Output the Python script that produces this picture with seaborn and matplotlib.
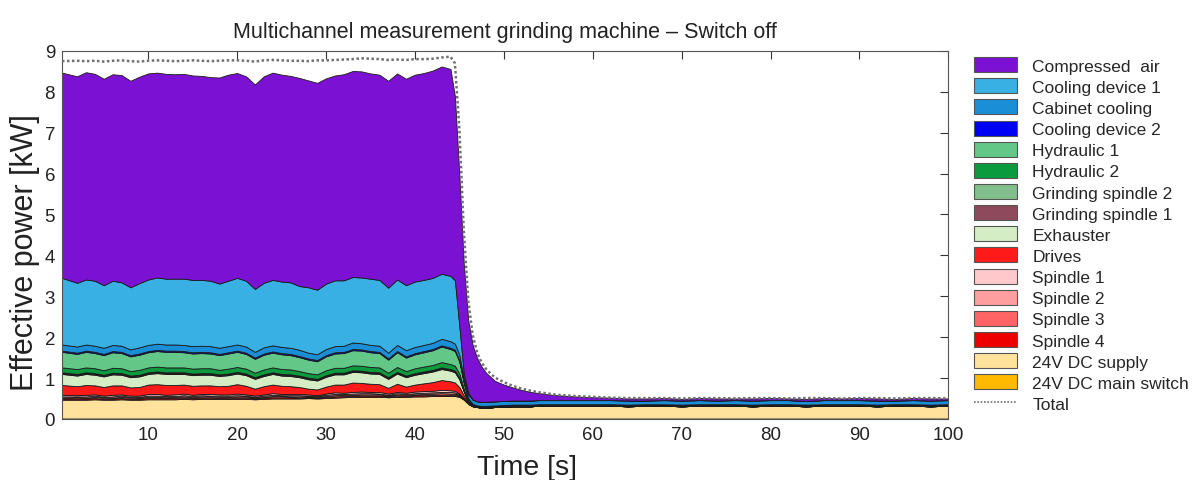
import numpy as np
import matplotlib
matplotlib.use("Agg")
import matplotlib.pyplot as plt
from matplotlib.patches import Patch
from matplotlib.lines import Line2D
import seaborn as sns

# ---------------------------------------------------------------------------
# Measured channels (effective power in kW) over time in seconds
# ---------------------------------------------------------------------------
time_s = [
    0.3, 2, 3, 4, 5, 6, 7, 8, 9, 10, 11, 12, 13, 14, 15, 16, 17, 18, 19, 20,
    21, 22, 23, 24, 25, 26, 27, 28, 29, 30, 31, 32, 33, 34, 35, 36, 37, 38, 39, 40,
    41, 42, 43, 44,
    44.5, 45, 45.5, 46, 46.5, 47, 47.5, 48, 49, 50, 51, 52, 53, 54, 55, 56, 58,
    60, 62, 64, 66, 68, 70, 72, 74, 76, 78, 80, 82, 84, 86, 88, 90, 92, 94, 96, 98, 100,
]

dc_main_switch = [
    0.01, 0.01, 0.01, 0.01, 0.01, 0.01, 0.01, 0.01, 0.01, 0.01, 0.01, 0.01, 0.01, 0.01, 0.01, 0.01, 0.01, 0.01, 0.01, 0.01,
    0.01, 0.01, 0.01, 0.01, 0.01, 0.01, 0.01, 0.01, 0.01, 0.01, 0.01, 0.01, 0.01, 0.01, 0.01, 0.01, 0.01, 0.01, 0.01, 0.01,
    0.01, 0.01, 0.01, 0.01,
    0.01, 0.01, 0.01, 0.01, 0.01, 0.01, 0.01, 0.01, 0.01, 0.01, 0.01, 0.01, 0.01, 0.01, 0.01, 0.01, 0.01,
    0.01, 0.01, 0.01, 0.01, 0.01, 0.01, 0.01, 0.01, 0.01, 0.01, 0.01, 0.01, 0.01, 0.01, 0.01, 0.01, 0.01, 0.01, 0.01, 0.01, 0.01,
]
dc_supply = [
    0.46, 0.46, 0.46, 0.47, 0.46, 0.46, 0.47, 0.46, 0.46, 0.47, 0.47, 0.47, 0.47, 0.48, 0.47, 0.48, 0.48, 0.48, 0.48, 0.48,
    0.48, 0.47, 0.48, 0.49, 0.49, 0.49, 0.49, 0.50, 0.49, 0.50, 0.51, 0.52, 0.53, 0.53, 0.53, 0.53, 0.52, 0.53, 0.53, 0.54,
    0.54, 0.55, 0.55, 0.55,
    0.55, 0.53, 0.46, 0.36, 0.30, 0.28, 0.27, 0.27, 0.28, 0.29, 0.30, 0.30, 0.30, 0.31, 0.31, 0.31, 0.31,
    0.31, 0.31, 0.30, 0.31, 0.31, 0.30, 0.31, 0.31, 0.31, 0.30, 0.31, 0.31, 0.30, 0.31, 0.31, 0.31, 0.30, 0.31, 0.31, 0.30, 0.31,
]
spindle_4 = [
    0.03, 0.03, 0.03, 0.03, 0.02, 0.03, 0.03, 0.02, 0.03, 0.03, 0.03, 0.03, 0.03, 0.03, 0.03, 0.03, 0.03, 0.02, 0.03, 0.03,
    0.03, 0.02, 0.03, 0.03, 0.03, 0.03, 0.02, 0.02, 0.02, 0.03, 0.03, 0.03, 0.03, 0.03, 0.03, 0.03, 0.02, 0.03, 0.02, 0.03,
    0.03, 0.03, 0.03, 0.03,
    0.03, 0.02, 0.01, 0.00, 0.00, 0.00, 0.00, 0.00, 0.00, 0.00, 0.00, 0.00, 0.00, 0.00, 0.00, 0.00, 0.00,
    0.00, 0.00, 0.00, 0.00, 0.00, 0.00, 0.00, 0.00, 0.00, 0.00, 0.00, 0.00, 0.00, 0.00, 0.00, 0.00, 0.00, 0.00, 0.00, 0.00, 0.00,
]
spindle_3 = [
    0.02, 0.03, 0.02, 0.03, 0.03, 0.02, 0.03, 0.03, 0.02, 0.03, 0.03, 0.02, 0.03, 0.03, 0.02, 0.03, 0.03, 0.03, 0.02, 0.03,
    0.03, 0.02, 0.02, 0.03, 0.03, 0.02, 0.03, 0.02, 0.02, 0.02, 0.03, 0.03, 0.02, 0.03, 0.03, 0.03, 0.02, 0.03, 0.03, 0.02,
    0.03, 0.03, 0.04, 0.03,
    0.03, 0.02, 0.01, 0.00, 0.00, 0.00, 0.00, 0.00, 0.00, 0.00, 0.00, 0.00, 0.00, 0.00, 0.00, 0.00, 0.00,
    0.00, 0.00, 0.00, 0.00, 0.00, 0.00, 0.00, 0.00, 0.00, 0.00, 0.00, 0.00, 0.00, 0.00, 0.00, 0.00, 0.00, 0.00, 0.00, 0.00, 0.00,
]
spindle_2 = [
    0.03, 0.02, 0.03, 0.03, 0.02, 0.03, 0.03, 0.02, 0.02, 0.03, 0.03, 0.03, 0.02, 0.03, 0.03, 0.03, 0.02, 0.03, 0.03, 0.03,
    0.02, 0.02, 0.03, 0.03, 0.02, 0.03, 0.03, 0.02, 0.02, 0.03, 0.03, 0.02, 0.03, 0.03, 0.03, 0.02, 0.02, 0.03, 0.02, 0.03,
    0.03, 0.03, 0.03, 0.04,
    0.03, 0.02, 0.01, 0.00, 0.00, 0.00, 0.00, 0.00, 0.00, 0.00, 0.00, 0.00, 0.00, 0.00, 0.00, 0.00, 0.00,
    0.00, 0.00, 0.00, 0.00, 0.00, 0.00, 0.00, 0.00, 0.00, 0.00, 0.00, 0.00, 0.00, 0.00, 0.00, 0.00, 0.00, 0.00, 0.00, 0.00, 0.00,
]
spindle_1 = [
    0.04, 0.03, 0.04, 0.03, 0.03, 0.04, 0.03, 0.03, 0.03, 0.04, 0.04, 0.03, 0.04, 0.04, 0.03, 0.03, 0.04, 0.03, 0.03, 0.04,
    0.03, 0.03, 0.03, 0.04, 0.03, 0.03, 0.03, 0.03, 0.02, 0.03, 0.04, 0.03, 0.04, 0.04, 0.03, 0.04, 0.03, 0.03, 0.03, 0.04,
    0.04, 0.04, 0.05, 0.04,
    0.04, 0.02, 0.01, 0.00, 0.00, 0.00, 0.00, 0.00, 0.00, 0.00, 0.00, 0.00, 0.00, 0.00, 0.00, 0.00, 0.00,
    0.00, 0.00, 0.00, 0.00, 0.00, 0.00, 0.00, 0.00, 0.00, 0.00, 0.00, 0.00, 0.00, 0.00, 0.00, 0.00, 0.00, 0.00, 0.00, 0.00, 0.00,
]
drives = [
    0.24, 0.22, 0.24, 0.22, 0.21, 0.23, 0.22, 0.20, 0.21, 0.23, 0.24, 0.24, 0.23, 0.22, 0.22, 0.21, 0.21, 0.20, 0.21, 0.23,
    0.21, 0.17, 0.20, 0.21, 0.20, 0.19, 0.17, 0.14, 0.14, 0.17, 0.19, 0.20, 0.23, 0.21, 0.20, 0.19, 0.14, 0.20, 0.15, 0.17,
    0.19, 0.21, 0.24, 0.22,
    0.20, 0.16, 0.07, 0.02, 0.00, 0.00, 0.00, 0.00, 0.00, 0.00, 0.00, 0.00, 0.00, 0.00, 0.00, 0.00, 0.00,
    0.00, 0.00, 0.00, 0.00, 0.00, 0.00, 0.00, 0.00, 0.00, 0.00, 0.00, 0.00, 0.00, 0.00, 0.00, 0.00, 0.00, 0.00, 0.00, 0.00, 0.00,
]
exhauster = [
    0.27, 0.26, 0.27, 0.26, 0.26, 0.27, 0.26, 0.25, 0.26, 0.26, 0.27, 0.27, 0.27, 0.26, 0.26, 0.26, 0.26, 0.25, 0.26, 0.26,
    0.26, 0.24, 0.25, 0.26, 0.25, 0.25, 0.24, 0.23, 0.22, 0.24, 0.25, 0.25, 0.26, 0.26, 0.25, 0.25, 0.22, 0.25, 0.23, 0.24,
    0.25, 0.26, 0.27, 0.26,
    0.25, 0.19, 0.09, 0.03, 0.01, 0.00, 0.00, 0.00, 0.00, 0.00, 0.00, 0.00, 0.00, 0.00, 0.00, 0.00, 0.00,
    0.00, 0.00, 0.00, 0.00, 0.00, 0.00, 0.00, 0.00, 0.00, 0.00, 0.00, 0.00, 0.00, 0.00, 0.00, 0.00, 0.00, 0.00, 0.00, 0.00, 0.00,
]
grinding_spindle_1 = [
    0.02, 0.02, 0.02, 0.02, 0.02, 0.02, 0.02, 0.02, 0.02, 0.02, 0.02, 0.02, 0.02, 0.02, 0.02, 0.02, 0.02, 0.02, 0.02, 0.02,
    0.02, 0.02, 0.02, 0.02, 0.02, 0.02, 0.02, 0.02, 0.02, 0.02, 0.02, 0.02, 0.02, 0.02, 0.02, 0.02, 0.02, 0.02, 0.02, 0.02,
    0.02, 0.02, 0.02, 0.02,
    0.02, 0.02, 0.01, 0.00, 0.00, 0.00, 0.00, 0.00, 0.00, 0.00, 0.00, 0.00, 0.00, 0.00, 0.00, 0.00, 0.00,
    0.00, 0.00, 0.00, 0.00, 0.00, 0.00, 0.00, 0.00, 0.00, 0.00, 0.00, 0.00, 0.00, 0.00, 0.00, 0.00, 0.00, 0.00, 0.00, 0.00, 0.00,
]
grinding_spindle_2 = [
    0.02, 0.02, 0.02, 0.02, 0.02, 0.02, 0.02, 0.02, 0.02, 0.02, 0.02, 0.02, 0.02, 0.02, 0.02, 0.02, 0.02, 0.02, 0.02, 0.02,
    0.02, 0.02, 0.02, 0.02, 0.02, 0.02, 0.02, 0.02, 0.02, 0.02, 0.02, 0.02, 0.02, 0.02, 0.02, 0.02, 0.02, 0.02, 0.02, 0.02,
    0.02, 0.02, 0.02, 0.02,
    0.02, 0.02, 0.01, 0.00, 0.00, 0.00, 0.00, 0.00, 0.00, 0.00, 0.00, 0.00, 0.00, 0.00, 0.00, 0.00, 0.00,
    0.00, 0.00, 0.00, 0.00, 0.00, 0.00, 0.00, 0.00, 0.00, 0.00, 0.00, 0.00, 0.00, 0.00, 0.00, 0.00, 0.00, 0.00, 0.00, 0.00, 0.00,
]
hydraulic_2 = [
    0.12, 0.12, 0.12, 0.12, 0.11, 0.12, 0.12, 0.11, 0.12, 0.12, 0.12, 0.12, 0.12, 0.12, 0.12, 0.12, 0.12, 0.11, 0.12, 0.12,
    0.12, 0.11, 0.12, 0.12, 0.12, 0.12, 0.11, 0.11, 0.11, 0.12, 0.12, 0.12, 0.12, 0.12, 0.12, 0.12, 0.11, 0.12, 0.11, 0.12,
    0.12, 0.12, 0.13, 0.12,
    0.12, 0.10, 0.05, 0.02, 0.01, 0.01, 0.01, 0.01, 0.01, 0.01, 0.01, 0.01, 0.01, 0.01, 0.01, 0.01, 0.01,
    0.01, 0.01, 0.01, 0.01, 0.01, 0.01, 0.01, 0.01, 0.01, 0.01, 0.01, 0.01, 0.01, 0.01, 0.01, 0.01, 0.01, 0.01, 0.01, 0.01, 0.01,
]
hydraulic_1 = [
    0.38, 0.37, 0.38, 0.37, 0.37, 0.38, 0.37, 0.36, 0.37, 0.37, 0.38, 0.38, 0.38, 0.37, 0.37, 0.37, 0.36, 0.36, 0.37, 0.37,
    0.36, 0.34, 0.36, 0.36, 0.36, 0.35, 0.34, 0.33, 0.32, 0.34, 0.35, 0.36, 0.37, 0.37, 0.36, 0.35, 0.32, 0.36, 0.33, 0.34,
    0.35, 0.36, 0.38, 0.37,
    0.36, 0.29, 0.14, 0.04, 0.02, 0.01, 0.01, 0.01, 0.01, 0.01, 0.01, 0.01, 0.01, 0.01, 0.01, 0.01, 0.01,
    0.01, 0.01, 0.01, 0.01, 0.01, 0.01, 0.01, 0.01, 0.01, 0.01, 0.01, 0.01, 0.01, 0.01, 0.01, 0.01, 0.01, 0.01, 0.01, 0.01, 0.01,
]
cooling_device_2 = [
    0.03, 0.03, 0.03, 0.03, 0.03, 0.03, 0.03, 0.03, 0.03, 0.03, 0.03, 0.03, 0.03, 0.03, 0.03, 0.03, 0.03, 0.03, 0.03, 0.03,
    0.03, 0.03, 0.03, 0.03, 0.03, 0.03, 0.03, 0.03, 0.03, 0.03, 0.03, 0.03, 0.03, 0.03, 0.03, 0.03, 0.03, 0.03, 0.03, 0.03,
    0.03, 0.03, 0.03, 0.03,
    0.03, 0.03, 0.02, 0.02, 0.02, 0.02, 0.02, 0.02, 0.02, 0.02, 0.02, 0.02, 0.02, 0.02, 0.02, 0.02, 0.02,
    0.02, 0.02, 0.02, 0.02, 0.02, 0.02, 0.02, 0.02, 0.02, 0.02, 0.02, 0.02, 0.02, 0.02, 0.02, 0.02, 0.02, 0.02, 0.02, 0.02, 0.02,
]
cabinet_cooling = [
    0.15, 0.15, 0.15, 0.15, 0.15, 0.15, 0.15, 0.14, 0.15, 0.15, 0.15, 0.15, 0.15, 0.15, 0.15, 0.15, 0.15, 0.15, 0.15, 0.15,
    0.15, 0.14, 0.15, 0.15, 0.15, 0.15, 0.15, 0.14, 0.14, 0.15, 0.15, 0.15, 0.16, 0.15, 0.15, 0.15, 0.14, 0.15, 0.15, 0.15,
    0.15, 0.15, 0.16, 0.16,
    0.15, 0.14, 0.10, 0.10, 0.10, 0.10, 0.10, 0.10, 0.10, 0.10, 0.10, 0.10, 0.10, 0.10, 0.10, 0.10, 0.10,
    0.10, 0.10, 0.10, 0.09, 0.10, 0.10, 0.10, 0.09, 0.10, 0.10, 0.10, 0.10, 0.09, 0.10, 0.10, 0.10, 0.10, 0.09, 0.10, 0.10, 0.10,
]
cooling_device_1 = [
    1.63, 1.56, 1.59, 1.59, 1.53, 1.57, 1.55, 1.52, 1.57, 1.60, 1.62, 1.61, 1.61, 1.62, 1.62, 1.61, 1.60, 1.57, 1.60, 1.63,
    1.61, 1.54, 1.58, 1.60, 1.60, 1.60, 1.56, 1.60, 1.58, 1.60, 1.61, 1.60, 1.60, 1.61, 1.62, 1.61, 1.59, 1.60, 1.59, 1.60,
    1.59, 1.59, 1.59, 1.60,
    1.55, 0.70, 0.12, 0.04, 0.01, 0.00, 0.00, 0.00, 0.00, 0.00, 0.00, 0.00, 0.00, 0.00, 0.00, 0.00, 0.00,
    0.00, 0.00, 0.00, 0.00, 0.00, 0.00, 0.00, 0.00, 0.00, 0.00, 0.00, 0.00, 0.00, 0.00, 0.00, 0.00, 0.00, 0.00, 0.00, 0.00, 0.00,
]
compressed_air = [
    5.02, 5.05, 5.07, 5.06, 5.05, 5.05, 5.07, 5.05, 5.05, 5.04, 5.01, 5.01, 5.00, 5.01, 5.00, 4.99, 4.98, 5.04, 5.04, 5.01,
    5.00, 5.00, 5.05, 5.07, 5.06, 5.05, 5.09, 5.06, 5.06, 5.02, 5.01, 5.04, 5.04, 5.04, 5.02, 5.02, 5.06, 5.04, 5.05, 5.06,
    5.06, 5.07, 5.07, 5.06,
    4.50, 3.70, 2.67, 1.77, 1.32, 1.06, 0.86, 0.71, 0.50, 0.40, 0.32, 0.26, 0.21, 0.17, 0.14, 0.12, 0.09,
    0.07, 0.06, 0.05, 0.05, 0.05, 0.04, 0.05, 0.05, 0.04, 0.05, 0.05, 0.04, 0.05, 0.05, 0.04, 0.05, 0.05, 0.04, 0.05, 0.05, 0.04,
]
total = [
    8.75, 8.76, 8.75, 8.76, 8.74, 8.76, 8.77, 8.75, 8.74, 8.76, 8.77, 8.76, 8.75, 8.76, 8.77, 8.76, 8.75, 8.76, 8.77, 8.77,
    8.76, 8.74, 8.77, 8.78, 8.77, 8.76, 8.76, 8.75, 8.77, 8.77, 8.78, 8.79, 8.80, 8.82, 8.81, 8.80, 8.78, 8.79, 8.78, 8.80,
    8.80, 8.81, 8.84, 8.86,
    8.70, 7.10, 4.60, 2.90, 2.05, 1.62, 1.38, 1.22, 1.01, 0.90, 0.81, 0.74, 0.69, 0.65, 0.62, 0.59, 0.56,
    0.54, 0.52, 0.51, 0.51, 0.51, 0.50, 0.51, 0.51, 0.50, 0.51, 0.51, 0.50, 0.51, 0.51, 0.50, 0.51, 0.51, 0.50, 0.51, 0.51, 0.50,
]

# Channels in legend order (top of stack first) with their fill colours
channel_names = [
    "Compressed  air", "Cooling device 1", "Cabinet cooling", "Cooling device 2",
    "Hydraulic 1", "Hydraulic 2", "Grinding spindle 2", "Grinding spindle 1",
    "Exhauster", "Drives", "Spindle 1", "Spindle 2", "Spindle 3", "Spindle 4",
    "24V DC supply", "24V DC main switch",
]
channel_values = [
    compressed_air, cooling_device_1, cabinet_cooling, cooling_device_2,
    hydraulic_1, hydraulic_2, grinding_spindle_2, grinding_spindle_1,
    exhauster, drives, spindle_1, spindle_2, spindle_3, spindle_4,
    dc_supply, dc_main_switch,
]
channel_colors = [
    "#7B12D3", "#38B0E3", "#1B8ED8", "#0000F5",
    "#62C787", "#0B9A3E", "#82BD8C", "#8E4A5C",
    "#D5EDC5", "#FF1A1A", "#FFC9CC", "#FF9E9E", "#FF6464", "#EE0000",
    "#FFE29C", "#FFB900",
]

# ---------------------------------------------------------------------------
sns.set_style("white")
plt.rcParams["font.family"] = ["Liberation Sans", "DejaVu Sans"]

fig = plt.figure(figsize=(12.01, 4.81), dpi=100)
ax = fig.add_axes([0.0516, 0.127, 0.738, 0.765])

# stackplot draws bottom layer first, so reverse the legend order
ax.stackplot(
    time_s,
    *channel_values[::-1],
    colors=channel_colors[::-1],
    edgecolor="#1a1a1a",
    linewidth=0.6,
)
sns.lineplot(x=time_s, y=total, ax=ax, color="#707070",
             linestyle=(0, (1, 1)), linewidth=1.8, zorder=5)

ax.set_xlim(0.3, 100)
ax.set_ylim(0, 9)
ax.set_xticks([10, 20, 30, 40, 50, 60, 70, 80, 90, 100])
ax.set_yticks(range(0, 10))
ax.tick_params(axis="both", direction="in", length=6, width=0.8,
               top=True, right=True, labelsize=13.5, colors="#333333",
               labelcolor="#222222", pad=5)
for side in ax.spines.values():
    side.set_color("#555555")
    side.set_linewidth(0.8)

ax.set_xlabel("Time [s]", fontsize=20.5, color="#222222")
ax.xaxis.set_label_coords(0.525, -0.095)
ax.set_ylabel("Effective power [kW]", fontsize=22, color="#222222")
ax.yaxis.set_label_coords(-0.025, 0.455)
ax.set_title("Multichannel measurement grinding machine \u2013 Switch off",
             fontsize=15.5, color="#222222", pad=10)

handles = [Patch(facecolor=c, edgecolor="#555555", linewidth=0.8)
           for c in channel_colors]
handles.append(Line2D([0], [0], color="#707070", linestyle=(0, (1, 1)), linewidth=1.2))
labels = channel_names + ["Total"]
fig.legend(handles, labels, loc="upper left", bbox_to_anchor=(0.811, 0.879),
           frameon=False, fontsize=12.5, handlelength=2.5, handleheight=0.95,
           labelspacing=0.27, handletextpad=0.85, borderaxespad=0,
           borderpad=0)

fig.savefig("out.png", dpi=100)
